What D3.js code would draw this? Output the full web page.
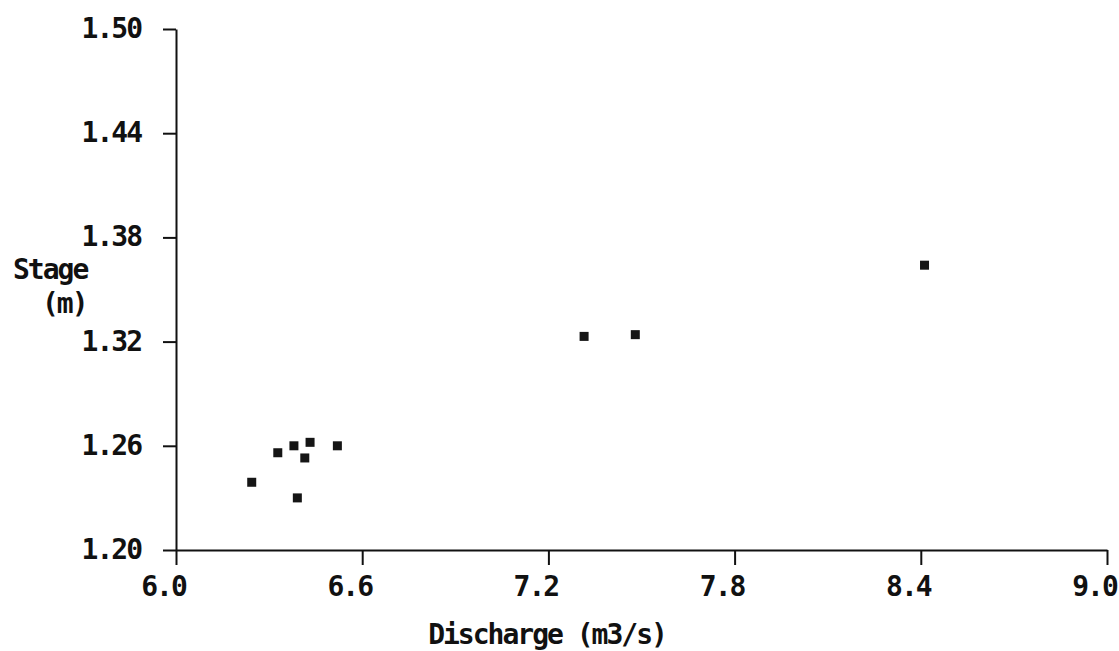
<!DOCTYPE html>
<html>
<head>
<meta charset="utf-8">
<script src="https://cdn.jsdelivr.net/npm/d3@7"></script>
<style>
  html, body { margin: 0; padding: 0; background: #fff; }
  svg text { font-family: "DejaVu Sans Mono", "Liberation Mono", monospace; font-weight: bold; fill: #111; }
</style>
</head>
<body>
<div id="chart"></div>
<script>
'use strict';

// ─── Data ─────────────────────────────────────────────────────────────────────
const discharge = [6.244, 6.328, 6.380, 6.432, 6.415, 6.391, 6.520, 7.315, 7.480, 8.412];
const stage     = [1.239, 1.256, 1.260, 1.262, 1.253, 1.230, 1.260, 1.323, 1.324, 1.364];
const xTicks    = [6.0, 6.6, 7.2, 7.8, 8.4, 9.0];
const yTicks    = [1.20, 1.26, 1.32, 1.38, 1.44, 1.50];

// ─── Layout ───────────────────────────────────────────────────────────────────
const W = 1119, H = 651;
const margin = { top: 29, right: 12, bottom: 101, left: 176 };
const FS = 28, LS = -2;

const svg = d3.select('#chart').append('svg').attr('width', W).attr('height', H);

const x = d3.scaleLinear().domain([6.0, 9.0]).range([margin.left, W - margin.right]);
const y = d3.scaleLinear().domain([1.20, 1.50]).range([H - margin.bottom, margin.top]);

// ─── Axes ─────────────────────────────────────────────────────────────────────
const xAxis = svg.append('g')
  .attr('transform', `translate(0,${y(1.20)})`)
  .call(d3.axisBottom(x).tickValues(xTicks).tickFormat(d3.format('.1f')).tickSize(15).tickSizeOuter(0).tickPadding(11));

const yAxis = svg.append('g')
  .attr('transform', `translate(${x(6.0)},0)`)
  .call(d3.axisLeft(y).tickValues(yTicks).tickFormat(d3.format('.2f')).tickSize(13).tickSizeOuter(0).tickPadding(22));

[xAxis, yAxis].forEach(g => {
  g.select('.domain').attr('stroke', '#111').attr('stroke-width', 2);
  g.selectAll('.tick line').attr('stroke', '#111').attr('stroke-width', 2);
  g.selectAll('.tick text')
    .attr('font-size', FS)
    .attr('letter-spacing', LS)
    .attr('fill', '#111');
});
xAxis.selectAll('.tick text').attr('dx', -13);
yAxis.selectAll('.tick text').attr('dy', '0.3em');

// ─── Axis titles ──────────────────────────────────────────────────────────────
svg.append('text')
  .attr('x', 547).attr('y', 644)
  .attr('text-anchor', 'middle')
  .attr('font-size', FS).attr('letter-spacing', LS)
  .text('Discharge (m3/s)');

svg.append('text')
  .attr('x', 13).attr('y', 279)
  .attr('font-size', FS).attr('letter-spacing', LS)
  .text('Stage');

svg.append('text')
  .attr('x', 42).attr('y', 313)
  .attr('font-size', FS).attr('letter-spacing', LS)
  .text('(m)');

// ─── Points ───────────────────────────────────────────────────────────────────
const S = 9;
svg.append('g')
  .selectAll('rect')
  .data(discharge.map((d, i) => ({ q: d, h: stage[i] })))
  .join('rect')
  .attr('x', d => x(d.q) - S / 2)
  .attr('y', d => y(d.h) - S / 2)
  .attr('width', S)
  .attr('height', S)
  .attr('fill', '#151515');
</script>
</body>
</html>
